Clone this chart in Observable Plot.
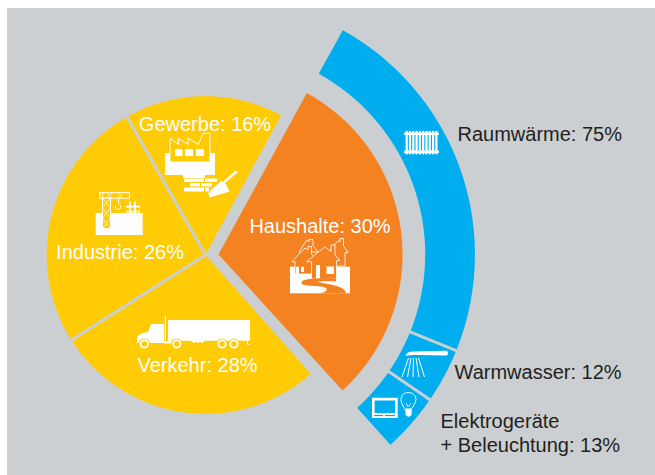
<!DOCTYPE html>
<html><head><meta charset="utf-8">
<style>html,body{margin:0;padding:0;background:#fff}svg{display:block}</style>
<script src="https://cdn.jsdelivr.net/npm/d3@7"></script>
<script src="https://cdn.jsdelivr.net/npm/@observablehq/plot@0.6"></script>
</head><body><div id="chart"></div>
<script>
// Shares as printed
const sectors = ["Gewerbe","Industrie","Verkehr","Haushalte"];
const sectorShares = [16,26,28,30];
const uses = ["Raumwärme","Warmwasser","Elektrogeräte + Beleuchtung"];
const useShares = [75,12,13];
// Slice edges, degrees clockwise from north
const pieEdges = [-29.6, 28.4, 138.5, 237.6, 330.4];
const ringEdges = [29, 112, 124.5, 137.9];

const GREY="#cbcfd2", YEL="#ffcb05", ORA="#f58220", BLU="#00aeef", INK="#231f20";
const pieC=[205,254.5], pieR=158.8;
const houseC=[218,254], houseR=184, ringIn=206.7, ringOut=256.4;

const pol=(c,r,a)=>{const t=a*Math.PI/180;return {x:c[0]+r*Math.sin(t),y:c[1]-r*Math.cos(t)}};
const sweep=(c,r,a,b)=>{const n=Math.ceil(Math.abs(b-a)/0.5);return d3.range(n+1).map(i=>pol(c,r,a+(b-a)*i/n))};
const wedge=(c,r,a,b)=>[{x:c[0],y:c[1]},...sweep(c,r,a,b)];
const band=(c,r0,r1,a,b)=>[...sweep(c,r1,a,b),...sweep(c,r0,b,a)];
const poly=(pts,fill)=>Plot.line(pts,{x:"x",y:"y",fill,stroke:"none"});

const icons=`
<g fill="#fff">
 <rect x="404" y="132.4" width="35" height="2.6" rx="1"/><rect x="404" y="150.6" width="35" height="2.6" rx="1"/>
 ${d3.range(10).map(i=>`<rect x="${405.6+i*3.3}" y="130.8" width="2.2" height="23.6" rx="1"/>`).join("")}
</g>
<g fill="#fff" stroke="none">
 <path d="M405.5 356 C407 352 410 351.5 414 351.5 L447 350.7 Q449 353 447 355.6 L416 355 C411 355 408 355.2 405.5 356Z"/>
 <g stroke="#fff" stroke-width="1" fill="none"><path d="M408.5 358L402 377M411 358L407.5 377M413.5 358L413 377M416 358L419 377M418.5 358L424.5 377"/></g>
 <path d="M372 397.7H397.7V418H372Z M374.6 400.4V413.3H395V400.4Z" fill-rule="evenodd"/>
 <rect x="374" y="415" width="9" height="1.1" fill="${BLU}"/><rect x="385" y="415" width="10" height="1.1" fill="${BLU}"/>
 <path d="M408.2 392.5 C403.5 392.5 401 396 401 400 C401 404.5 405 407.5 405.6 411 H410.6 C411.2 407.5 416 404 416 399.5 C416 395.5 412.5 392.5 408.2 392.5Z" fill="none" stroke="#fff" stroke-width="1"/>
 <path d="M406 403 L408 407 M411 403 L408.6 407" stroke="#fff" stroke-width=".7"/>
 <path d="M405.6 408.5H411.6V415Q408.6 418.5 405.6 415Z"/>
</g>
<g>
 <path d="M165 153H170V162H210V153H215V175H205V178H183V175H165Z" fill="#fff"/>
 <path d="M170 162V138.3L178.3 144.3V138.3L188 144.3V138.3L198.3 144.3L203.3 133.3H210V162Z" fill="none" stroke="#fff" stroke-width="1"/>
 <g fill="#fff"><rect x="175" y="149" width="7.5" height="7"/><rect x="185" y="149" width="8" height="7"/><rect x="196" y="149" width="8" height="7"/>
 <rect x="184" y="178.5" width="20" height="3.4"/><rect x="205" y="178.5" width="12" height="3.4"/>
 <rect x="190" y="183" width="10" height="3.4"/><rect x="201" y="183" width="11" height="3.4"/>
 <rect x="184" y="187.5" width="20" height="4"/><rect x="205" y="187.5" width="4" height="4"/>
 <path d="M210 197.5L208 193.5L213 188L221.5 181L226 184L229.5 191.5Z"/></g>
 <path d="M225 181.5L236 172" stroke="#fff" stroke-width="2.6" stroke-linecap="round"/>
</g>
<g>
 <path d="M95.7 213H142.7V235H95.7Z" fill="#fff"/>
 <rect x="99.5" y="192.7" width="30" height="5.5" fill="${YEL}" stroke="#fff" stroke-width="1"/>
 <path d="M100 198.2L104 193M104 198.2L100 193M107 198.2L112 193M107 193L112 198.2M118 198.2L123 193M118 193L123 198.2" stroke="#fff" stroke-width=".7"/>
 <rect x="102.5" y="198.2" width="8" height="30.5" fill="${YEL}" stroke="#fff" stroke-width="1"/>
 <path d="M102.5 198.2L110.5 208L102.5 218L110.5 228.7M110.5 198.2L102.5 208L110.5 218L102.5 228.7" fill="none" stroke="#fff" stroke-width=".7"/>
 <path d="M118.5 198V203.5C121.5 205 121.5 209.5 118 209.5C115.5 209.5 115 207.5 115.5 206" fill="none" stroke="#fff" stroke-width="1"/>
 <path d="M126 206.7H140M126 211.7H140M130 201.5V216M135 201.5V216" stroke="#fff" stroke-width="1.7"/>
</g>
<g>
 <path d="M168 320.3Q168 320 169 320H249Q250 320 250 321V340.7H205L203 342H193L190 340.7H168Z" fill="#fff"/>
 <path d="M164.8 316V340H166V316Z" fill="#fff"/>
 <path d="M137 340C137 335 141 333 148 332L151 324H164V343H137Z" fill="#fff"/>
 <path d="M164 341H175V343.5H164Z" fill="#fff"/>
 ${[[144.3,344],[176.8,344],[222,344],[234,344]].map(([x,y])=>`<circle cx="${x}" cy="${y}" r="5.6" fill="${YEL}"/><circle cx="${x}" cy="${y}" r="3.7" fill="none" stroke="#fff" stroke-width="1.8"/>`).join("")}
 <path d="M193 342.5H195M197 342.5H199M201 342.5H203" stroke="#fff" stroke-width="1.2"/>
 <path d="M247.5 341V344.5H250" fill="none" stroke="#fff" stroke-width=".8"/>
</g>
<g>
 <rect x="290" y="266.7" width="60" height="26.6" fill="#fff"/>
 <g fill="${ORA}" stroke="#fff" stroke-width=".8" stroke-linejoin="miter">
  <path d="M299 252L306.7 240L309 242V239.5H313V245.5L318 252Z"/>
  <path d="M330 250L338 240.7L340 242V238.5H343.5V246L348 252.5H345V266L335 266Z"/>
  <path d="M291.7 261.7L305 248L308 250V246.5H311.5V254L317 261.7H313V274H295V261.7Z"/>
 </g>
 <path d="M296 266.7H299V274H296ZM301 266.7H304V272H301Z" fill="#fff"/>
 <path d="M306.7 261.7L325 246.7L331 251.5V245H335V255L340 260.7H336.5V279H311.5V261.7Z" fill="${ORA}" stroke="#fff" stroke-width=".8"/>
 <rect x="326.5" y="266.5" width="7.5" height="7.5" fill="#fff"/>
 <path d="M316 265H320V279H316Z" fill="#fff"/>
 <path d="M336 278.5C320 278 301 278 301.5 283C302 287 322 285 326 288C328 290 326 292 320 293.3H346C346 288 336 285 322 283C315 282 316 281 336 281.5Z" fill="${ORA}"/>
</g>`;

const iconMark=(index,{x,y})=>{
  const g=document.createElementNS("http://www.w3.org/2000/svg","g");
  g.setAttribute("transform",`translate(${x(0)},${y(0)})`);
  g.innerHTML=icons; return g;
};

const labels=[
 {t:`${sectors[0]}: ${sectorShares[0]}%`,x:204.5,y:130,c:"#fff",a:"middle"},
 {t:`${sectors[1]}: ${sectorShares[1]}%`,x:119.5,y:258,c:"#fff",a:"middle"},
 {t:`${sectors[2]}: ${sectorShares[2]}%`,x:197,y:371,c:"#fff",a:"middle"},
 {t:`${sectors[3]}: ${sectorShares[3]}%`,x:319.5,y:232,c:"#fff",a:"middle"},
 {t:`${uses[0]}: ${useShares[0]}%`,x:457,y:140,c:INK,a:"start"},
 {t:`${uses[1]}: ${useShares[1]}%`,x:454,y:378,c:INK,a:"start"},
 {t:"Elektrogeräte",x:440,y:427,c:INK,a:"start"},
 {t:`+ Beleuchtung: ${useShares[2]}%`,x:440,y:451,c:INK,a:"start"}
];
const textMark=a=>Plot.text(labels.filter(d=>d.a===a),{x:"x",y:"y",text:"t",fill:"c",textAnchor:a,lineAnchor:"bottom",fontSize:20,fontFamily:"Liberation Sans"});

const marks=[
 Plot.rect([0],{x1:()=>7,x2:()=>655,y1:()=>8,y2:()=>475,fill:GREY}),
 // yellow sectors
 poly(wedge(pieC,pieR,pieEdges[0],pieEdges[1]),YEL),
 poly(wedge(pieC,pieR,pieEdges[3],pieEdges[4]),YEL),
 poly(wedge(pieC,pieR,pieEdges[2],pieEdges[3]),YEL),
 Plot.link([pieEdges[0],pieEdges[3]],{x1:()=>pieC[0],y1:()=>pieC[1],x2:d=>pol(pieC,pieR+2,d).x,y2:d=>pol(pieC,pieR+2,d).y,stroke:GREY,strokeWidth:3}),
 // household sector and its ring
 poly(wedge(houseC,houseR,pieEdges[1]+0.3,pieEdges[2]-0.9),ORA),
 ...d3.range(3).map(i=>poly(band(houseC,ringIn,ringOut,ringEdges[i],ringEdges[i+1]),BLU)),
 Plot.link([ringEdges[1],ringEdges[2]],{x1:d=>pol(houseC,ringIn-2,d).x,y1:d=>pol(houseC,ringIn-2,d).y,x2:d=>pol(houseC,ringOut+2,d).x,y2:d=>pol(houseC,ringOut+2,d).y,stroke:GREY,strokeWidth:3}),
 iconMark,
 textMark("middle"),
 textMark("start")
];
const chart=Plot.plot({width:655,height:475,margin:0,
 x:{domain:[0,655],range:[0,655],axis:null},
 y:{domain:[0,475],range:[0,475],axis:null},
 style:{background:"#fff"},
 marks});
document.getElementById("chart").append(chart);
</script></body></html>
